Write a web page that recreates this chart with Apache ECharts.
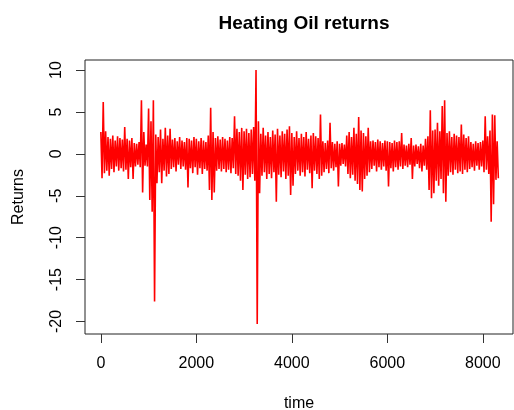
<!DOCTYPE html>
<html>
<head>
<meta charset="utf-8">
<title>Heating Oil returns</title>
<script src="https://cdn.jsdelivr.net/npm/echarts@6/dist/echarts.min.js"></script>
<style>
  html, body { margin: 0; padding: 0; background: #fff; }
  #chart { width: 514px; height: 410px; }
</style>
</head>
<body>
<div id="chart"></div>
<script>
// returns read off the picture: for every block of 50 observations,
// the highest and the lowest return in that block
const blockSize = 50;
const blockHigh = [
  2.6, 6.2, 2.7, 2.0, 1.8, 2.2, 1.6, 2.1, 1.9, 1.7,
  3.2, 1.8, 1.6, 1.9, 1.3, 1.2, 1.4, 6.4, 2.6, 1.1,
  5.4, 3.9, 6.4, 2.3, 2.0, 2.9, 1.8, 3.1, 2.2, 3.0,
  1.7, 1.9, 1.5, 2.0, 1.6, 1.4, 1.9, 1.8, 1.6, 2.0,
  1.8, 1.5, 1.9, 1.6, 1.4, 2.2, 5.5, 2.6, 1.9, 2.1,
  1.7, 2.0, 1.8, 1.6, 2.0, 1.9, 4.5, 3.0, 2.6, 3.1,
  2.7, 3.0, 2.5, 2.9, 3.2, 10.0, 3.9, 2.4, 3.1, 2.2,
  2.6, 2.0, 2.8, 2.3, 3.0, 2.2, 2.7, 2.4, 2.9, 3.3,
  2.5, 2.0, 2.7, 1.9, 2.4, 2.0, 2.6, 1.8, 2.2, 2.5,
  2.1, 1.9, 4.7, 1.5, 1.3, 1.6, 3.7, 1.4, 1.2, 1.5,
  1.2, 1.3, 1.1, 2.2, 2.6, 2.0, 3.1, 2.4, 4.4, 2.8,
  2.5, 2.1, 3.1, 1.5, 1.6, 1.4, 1.7, 1.5, 1.3, 1.6,
  1.5, 1.4, 1.3, 1.6, 1.4, 1.5, 2.5, 1.1, 1.0, 1.2,
  1.9, 1.0, 1.1, 0.9, 1.2, 1.0, 1.8, 2.1, 5.2, 2.8,
  2.9, 3.7, 2.7, 5.7, 6.4, 2.5, 2.7, 2.0, 2.4, 2.2,
  2.0, 3.5, 2.3, 1.9, 2.1, 1.4, 1.2, 1.5, 1.3, 1.4,
  1.6, 4.5, 2.1, 2.8, 4.7, 4.6, 1.5
];
const blockLow = [
  -2.9, -2.3, -2.0, -2.6, -1.8, -2.2, -1.5, -2.0, -1.7, -2.1,
  -1.9, -3.0, -1.6, -3.0, -1.5, -1.3, -1.6, -4.6, -1.4, -1.5,
  -5.5, -6.9, -17.6, -3.5, -2.2, -3.5, -2.0, -2.7, -2.4, -1.8,
  -1.6, -2.1, -1.3, -1.8, -1.5, -1.9, -4.0, -1.7, -2.3, -1.6,
  -2.5, -1.7, -2.4, -1.8, -2.0, -4.3, -5.5, -4.6, -2.0, -1.8,
  -2.1, -1.8, -2.2, -1.9, -2.3, -1.7, -2.4, -2.6, -3.2, -4.3,
  -2.5, -3.0, -2.8, -2.4, -3.2, -20.3, -4.7, -2.6, -2.2, -3.0,
  -2.4, -2.9, -2.2, -5.7, -2.5, -2.8, -2.1, -3.0, -2.6, -4.9,
  -3.8, -2.4, -2.0, -2.6, -2.2, -2.7, -1.9, -2.3, -4.1, -2.0,
  -2.4, -3.0, -2.6, -2.2, -1.8, -2.3, -1.7, -2.0, -1.6, -3.9,
  -1.4, -1.2, -1.5, -2.4, -2.9, -2.5, -3.2, -3.6, -4.3, -4.5,
  -3.0, -2.6, -2.2, -1.8, -1.4, -2.1, -1.6, -1.9, -1.5, -2.0,
  -3.9, -1.7, -2.1, -1.6, -1.9, -1.5, -1.8, -1.4, -1.6, -1.3,
  -3.0, -1.5, -1.2, -1.7, -2.1, -1.4, -1.9, -4.3, -5.3, -4.7,
  -3.2, -3.8, -3.0, -4.7, -5.7, -2.6, -2.2, -2.5, -1.9, -2.3,
  -2.1, -2.4, -1.9, -2.2, -1.8, -1.6, -2.0, -1.4, -1.9, -1.5,
  -2.2, -1.9, -2.4, -8.1, -6.0, -3.1, -2.9
];
const xTicks = [0, 2000, 4000, 6000, 8000];
const yTicks = [-20, -15, -10, -5, 0, 5, 10];

// high then low inside each block, so the line sweeps the whole band
const points = [];
blockHigh.forEach(function (h, i) {
  points.push([i * blockSize, h]);
  points.push([i * blockSize + blockSize / 2, blockLow[i]]);
});

const chart = echarts.init(document.getElementById('chart'), null, { renderer: 'canvas' });
const font = 'Liberation Sans, Arial, sans-serif';
const plain = function (v) { return String(v); };

const option = {
  animation: false,
  backgroundColor: '#ffffff',
  title: {
    text: 'Heating Oil returns',
    left: 299,
    top: 9,
    textAlign: 'center',
    textStyle: { fontFamily: font, fontSize: 19, fontWeight: 'bold', color: '#000' }
  },
  grid: {
    left: 85, right: 1, top: 60, bottom: 76,
    show: true, borderColor: '#222', borderWidth: 1,
    outerBoundsMode: 'none'
  },
  xAxis: {
    type: 'value',
    min: -332,
    max: 8632,
    name: 'time',
    nameLocation: 'middle',
    nameGap: 62,
    nameTextStyle: { fontFamily: font, fontSize: 16, color: '#000' },
    axisLine: { show: false, onZero: false },
    splitLine: { show: false },
    axisTick: { show: true, length: 9, customValues: xTicks, lineStyle: { color: '#333' } },
    axisLabel: { customValues: xTicks, formatter: plain, margin: 22, fontFamily: font, fontSize: 16, color: '#000' }
  },
  yAxis: {
    type: 'value',
    min: -21.49,
    max: 11.2,
    name: 'Returns',
    nameLocation: 'middle',
    nameGap: 58,
    nameRotate: 90,
    nameTextStyle: { fontFamily: font, fontSize: 16, color: '#000' },
    axisLine: { show: false, onZero: false },
    splitLine: { show: false },
    axisTick: { show: true, length: 9, customValues: yTicks, lineStyle: { color: '#333' } },
    axisLabel: { customValues: yTicks, formatter: plain, rotate: 90, margin: 20, fontFamily: font, fontSize: 16, color: '#000' }
  },
  series: [
    {
      type: 'line',
      data: points,
      symbol: 'none',
      sampling: null,
      lineStyle: { color: '#ff0000', width: 1.6 },
      z: 1
    }
  ]
};

chart.setOption(option);
</script>
</body>
</html>
